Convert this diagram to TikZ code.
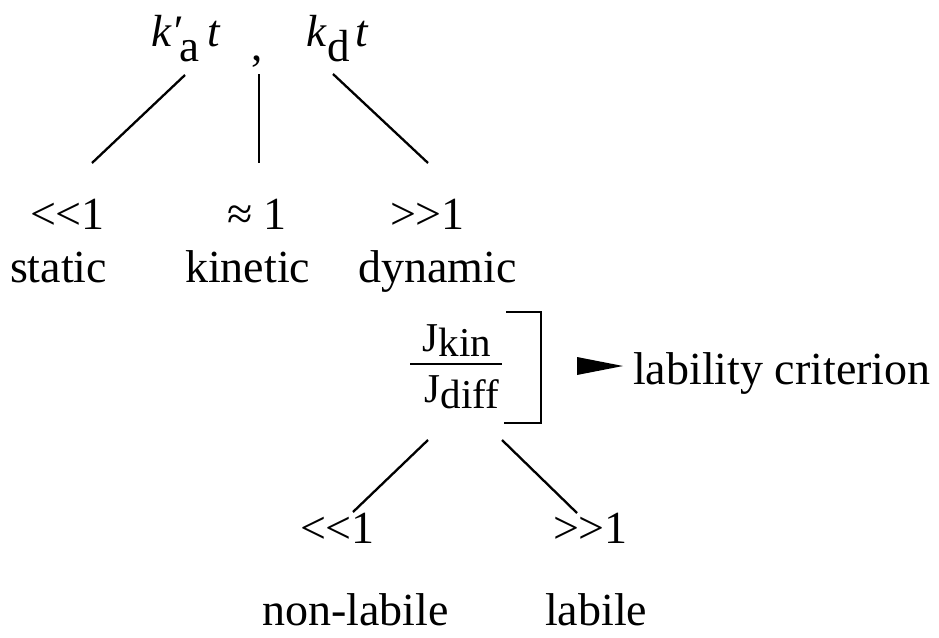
\documentclass[tikz,border=0pt]{standalone}
\usepackage{fontspec}
\setmainfont{Liberation Serif}[Ligatures=TeXOff]
\begin{document}
\begin{tikzpicture}[x=1pt,y=-1pt,
  lbl/.style={anchor=base west,inner sep=0pt,outer sep=0pt,font=\fontsize{46}{54}\selectfont},
  toplbl/.style={anchor=base west,inner sep=0pt,outer sep=0pt,font=\fontsize{45}{50}\selectfont},
  frac/.style={anchor=base west,inner sep=0pt,outer sep=0pt,font=\fontsize{41}{46}\selectfont},
  conn/.style={line width=2.3pt},
  brk/.style={line width=2.3pt}]
\useasboundingbox (0,0) rectangle (939,637);
% top expressions
\node[toplbl] (ka) at (151,46) {\textit{k}\rlap{\textit{′}}\kern8pt\raisebox{-15pt}{a}\kern8pt\textit{t}};
\node[toplbl] (comma) at (251,60) {,};
\node[toplbl] (kd) at (306,46) {\textit{k}\kern1pt\raisebox{-15pt}{d}\kern5pt\textit{t}};
% first level
\node[lbl] (lt1) at (30,229) {<<1};
\node[lbl] (ap1) at (227,229) {≈ 1};
\node[lbl] (gt1) at (390,229) {>>1};
\node[lbl] (static) at (10,282) {static};
\node[lbl] (kinetic) at (185,282) {kinetic};
\node[lbl] (dynamic) at (358,282) {dynamic};
% connectors top
\coordinate (ka-b) at (185,75);
\coordinate (cm-b) at (259,74);
\coordinate (kd-b) at (333,74);
\coordinate (st-t) at (92,163);
\coordinate (ki-t) at (259,163);
\coordinate (dy-t) at (428,163);
\draw[conn] (ka-b) -- (st-t);
\draw[conn] (cm-b) -- (ki-t);
\draw[conn] (kd-b) -- (dy-t);
% fraction
\node[frac] (jkin) at (422,351) {J\kern1pt\raisebox{-5pt}{kin}};
\node[frac] (jdiff) at (424,402) {J\kern1pt\raisebox{-6pt}{diff}};
\coordinate (bar-l) at (410,364);
\coordinate (bar-r) at (502,364);
\draw[line width=2pt] (bar-l) -- (bar-r);
% bracket
\coordinate (bk-tl) at (506,312);
\coordinate (bk-tr) at (541,312);
\coordinate (bk-br) at (541,423);
\coordinate (bk-bl) at (504,423);
\draw[brk] (bk-tl) -- (bk-tr) -- (bk-br) -- (bk-bl);
% arrow and criterion
\coordinate (ar-l) at (577,366);
\node[lbl] (crit) at (633,384) {lability criterion};
\fill (ar-l) ++(0,-9) -- (623,366) -- (577,375) -- cycle;
% second level
\node[lbl] (lt2) at (300,543) {<<1};
\node[lbl] (gt2) at (553,543) {>>1};
\node[lbl] (nonlab) at (262,625) {non-labile};
\node[lbl] (labile) at (545,625) {labile};
\coordinate (fr-bl) at (428,440);
\coordinate (fr-br) at (502,440);
\coordinate (nl-t) at (353,512);
\coordinate (lb-t) at (577,513);
\draw[conn] (fr-bl) -- (nl-t);
\draw[conn] (fr-br) -- (lb-t);
\end{tikzpicture}
\end{document}
